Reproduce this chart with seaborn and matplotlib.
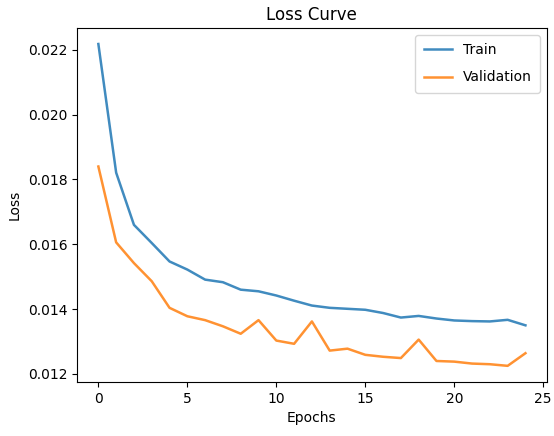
import matplotlib
matplotlib.use("Agg")
import matplotlib.pyplot as plt
import seaborn as sns
import numpy as np

epochs = list(range(25))
train_loss = [0.02218, 0.01821, 0.01660, 0.01604, 0.01547, 0.01522, 0.01491, 0.01483,
              0.01460, 0.01455, 0.01442, 0.01426, 0.01411, 0.01404, 0.01401, 0.01398,
              0.01388, 0.01374, 0.01379, 0.01371, 0.01365, 0.01363, 0.01362, 0.01367,
              0.01350]
val_loss = [0.01840, 0.01606, 0.01542, 0.01486, 0.01404, 0.01378, 0.01366, 0.01347,
            0.01324, 0.01366, 0.01303, 0.01293, 0.01362, 0.01272, 0.01278, 0.01259,
            0.01253, 0.01249, 0.01306, 0.01240, 0.01238, 0.01232, 0.01230, 0.01225,
            0.01264]

fig = plt.figure(figsize=(5.54, 4.36), dpi=100)
ax = fig.add_axes([0.139, 0.124, 0.848, 0.812])

sns.lineplot(x=epochs, y=train_loss, ax=ax, color="#1f77b4", label="Train", linewidth=1.8, alpha=0.85)
sns.lineplot(x=epochs, y=val_loss, ax=ax, color="#ff7f0e", label="Validation", linewidth=1.8, alpha=0.85)

ax.set_title("Loss Curve", fontsize=12)
ax.set_xlabel("Epochs")
ax.set_ylabel("Loss")
ax.set_xticks([0, 5, 10, 15, 20, 25])
ax.legend(loc="upper right", labelspacing=0.95, borderpad=0.6)

fig.savefig("out.png", dpi=100)
